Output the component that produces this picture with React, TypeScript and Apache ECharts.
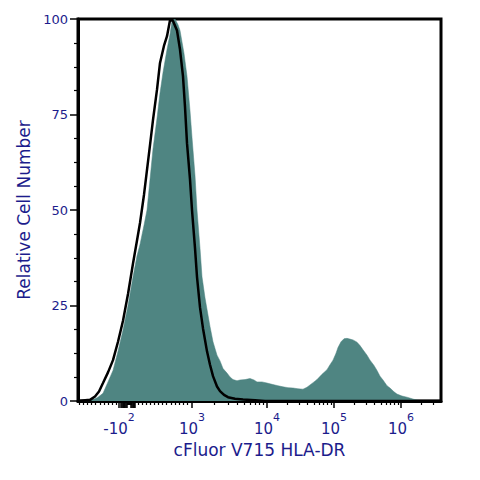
import React, { useEffect, useRef } from "react";
import * as echarts from "echarts";

// Display channels (0 = left edge of plot, 363 = right edge) on the biexponential axis
const stainedChannels = [0, 12, 15, 20, 25, 30, 35, 40, 45, 50, 55, 59, 62, 66, 69, 72, 75, 79, 82, 85, 89, 92, 94, 97, 100, 102, 106, 109, 112, 114, 117, 119, 122, 124, 127, 129, 132, 135, 139, 142, 145, 149, 152, 155, 159, 162, 167, 172, 176, 179, 184, 189, 195, 200, 205, 210, 215, 220, 225, 229, 232, 236, 239, 244, 249, 252, 255, 258, 260, 263, 266, 269, 272, 275, 279, 282, 285, 289, 292, 296, 299, 302, 305, 309, 312, 316, 319, 324, 329, 335, 340, 347, 363];
const stainedCounts = [0, 0, 0.3, 1, 2, 5, 8, 13, 18.6, 25, 32.5, 38, 41, 46, 50, 58, 66, 74, 80.6, 86, 92, 96, 99.5, 100, 98.5, 97, 91, 85, 76, 69, 59, 50, 40, 32.5, 27, 24, 19.5, 15.5, 12, 10.5, 8.5, 7.3, 6.3, 5.6, 5.3, 5.5, 5.6, 5.9, 5.5, 5.0, 5.0, 4.7, 4.3, 4.0, 3.7, 3.5, 3.4, 3.2, 3.1, 3.6, 4.2, 5.0, 5.6, 7.0, 8.2, 9.5, 10.7, 12.5, 14, 15.5, 16.3, 16.4, 16.2, 16.0, 15.4, 14.5, 13.4, 12, 10.7, 9.3, 8.0, 6.5, 5.5, 4.0, 3.4, 2.4, 1.8, 1.3, 1.0, 0.5, 0.2, 0, 0];

const controlChannels = [0, 12, 17, 21, 25, 30, 35, 40, 45, 50, 55, 59, 62, 66, 69, 72, 75, 79, 82, 86, 89, 92, 95, 99, 102, 105, 107, 109, 112, 114, 117, 119, 122, 125, 129, 132, 135, 139, 142, 146, 150, 157, 165, 177, 187, 363];
const controlCounts = [0, 0.3, 1.2, 2.5, 4.7, 7.5, 10.7, 15.5, 21, 28, 36, 42, 46.6, 54, 60.5, 67, 73.6, 81.5, 88.5, 93, 95.5, 99.7, 99.5, 97, 92, 85, 77, 67.5, 58, 50, 40, 32.5, 24.5, 19, 13, 9.5, 6.5, 3.8, 2.6, 1.6, 1.0, 0.6, 0.4, 0.2, 0, 0];

// Axis decorations
const xMajorChannels = [41, 114, 189, 256, 323];
const xMajorSigns = ["-", "", "", "", ""];
const xMajorExponents = ["2", "3", "4", "5", "6"];
const yTicks = [0, 25, 50, 75, 100];

const xName = "cFluor V715 HLA-DR";
const yName = "Relative Cell Number";

const TEAL = "#4f8582";
const NAVY = "#1c1c8c";
const FONT = "DejaVu Sans";

function buildLongTicks(): number[] {
  const out: number[] = [...xMajorChannels];
  for (let c = 43; c <= 49; c += 0.8) out.push(c);
  for (let c = 53; c <= 57; c += 0.8) out.push(c);
  return out;
}

function buildMinorTicks(): number[] {
  const out: number[] = [];
  for (let i = 0; i < 10; i++) out.push(1 + i * 4.15);
  for (let c = 49; c <= 53; c += 0.8) out.push(c);
  for (let i = 0; i < 13; i++) out.push(60 + i * 4.1);
  const anchors = [xMajorChannels[1], xMajorChannels[2], xMajorChannels[3], xMajorChannels[4]];
  const decs: [number, number][] = [];
  for (let i = 0; i < anchors.length - 1; i++) decs.push([anchors[i], anchors[i + 1]]);
  decs.push([anchors[anchors.length - 1], anchors[anchors.length - 1] + (anchors[3] - anchors[2])]);
  for (const [a, b] of decs) {
    for (let m = 2; m <= 9; m++) {
      const c = a + Math.log10(m) * (b - a);
      if (c < 362) out.push(c);
    }
  }
  return out;
}

export default function App() {
  const ref = useRef<HTMLDivElement>(null);
  useEffect(() => {
    document.body.style.margin = "0";
    if (!ref.current) return;
    const chart = echarts.init(ref.current, undefined, { renderer: "svg" });
    const minor = buildMinorTicks();
    const longTicks = buildLongTicks();
    const stained = stainedChannels.map((c, i) => [c, stainedCounts[i]]);
    const control = controlChannels.map((c, i) => [c, controlCounts[i]]);
    chart.setOption({
      animation: false,
      grid: {
        left: 78,
        right: 39,
        top: 19,
        bottom: 79,
        show: true,
        borderColor: "#000",
        borderWidth: 3,
        backgroundColor: "transparent",
      },
      xAxis: [
        {
          type: "value",
          min: 0,
          max: 363,
          position: "bottom",
          axisLine: { show: true, onZero: false, lineStyle: { color: "#000", width: 3 } },
          splitLine: { show: false },
          axisTick: {
            show: true,
            customValues: longTicks,
            length: 7,
            lineStyle: { color: "#000", width: 1.5 },
          },
          axisLabel: {
            show: true,
            customValues: xMajorChannels,
            margin: 11,
            formatter: (v: number) => {
              const i = xMajorChannels.findIndex((c) => Math.abs(c - v) < 0.01);
              if (i < 0) return "";
              return `{b|${xMajorSigns[i]}10}{s|${xMajorExponents[i]}}`;
            },
            rich: {
              b: { fontSize: 15, fontFamily: FONT, color: NAVY, lineHeight: 24, verticalAlign: "bottom" },
              s: { fontSize: 11, fontFamily: FONT, color: NAVY, lineHeight: 14, verticalAlign: "top" },
            },
          },
          name: xName,
          nameLocation: "middle",
          nameGap: 40,
          nameTextStyle: { color: NAVY, fontSize: 17, fontFamily: FONT },
        },
        {
          type: "value",
          min: 0,
          max: 363,
          position: "bottom",
          axisLine: { show: false, onZero: false },
          splitLine: { show: false },
          axisLabel: { show: false },
          axisTick: {
            show: true,
            customValues: minor,
            length: 4,
            lineStyle: { color: "#000", width: 1.2 },
          },
        },
      ],
      yAxis: {
        type: "value",
        min: 0,
        max: 100,
        interval: 25,
        axisLine: { show: true, lineStyle: { color: "#000", width: 3 } },
        splitLine: { show: false },
        axisTick: { show: true, length: 8, lineStyle: { color: "#000", width: 1.5 } },
        minorTick: { show: true, splitNumber: 4, length: 4, lineStyle: { color: "#000", width: 1.2 } },
        axisLabel: {
          color: NAVY,
          fontSize: 13,
          fontFamily: FONT,
          margin: 10,
          formatter: (v: number) => (yTicks.includes(v) ? String(v) : ""),
        },
        name: yName,
        nameLocation: "middle",
        nameGap: 40,
        nameTextStyle: { color: NAVY, fontSize: 17, fontFamily: FONT },
      },
      series: [
        {
          type: "line",
          xAxisIndex: 0,
          data: stained,
          symbol: "none",
          lineStyle: { width: 0.5, color: TEAL },
          itemStyle: { color: TEAL },
          areaStyle: { color: TEAL, opacity: 1 },
          z: 2,
        },
        {
          type: "line",
          xAxisIndex: 0,
          data: control,
          symbol: "none",
          lineStyle: { width: 2.5, color: "#000" },
          itemStyle: { color: "#000" },
          z: 3,
        },
      ],
    });
    return () => chart.dispose();
  }, []);
  return <div ref={ref} style={{ width: 480, height: 480 }} />;
}
